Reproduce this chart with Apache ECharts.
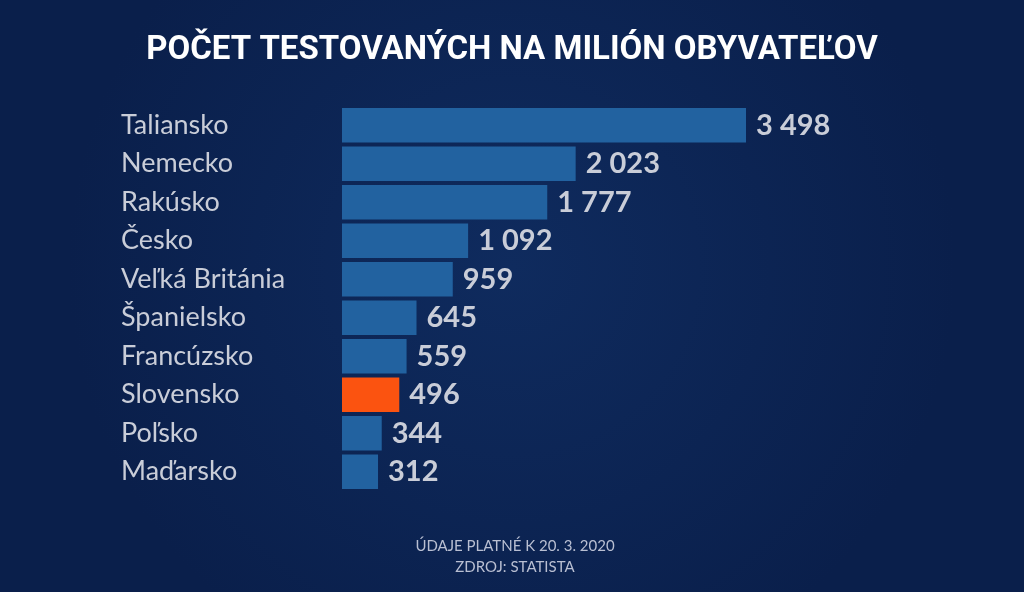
<!DOCTYPE html>
<html>
<head>
<meta charset="utf-8">
<script src="https://cdn.jsdelivr.net/npm/echarts@6/dist/echarts.min.js"></script>
<style>
html,body{margin:0;padding:0;width:1024px;height:592px;overflow:hidden;}
#c{width:1024px;height:592px;}
</style>
</head>
<body>
<div id="c"></div>
<script>
const countries = ['Taliansko','Nemecko','Rakúsko','Česko','Veľká Británia','Španielsko','Francúzsko','Slovensko','Poľsko','Maďarsko'];
const values = [3498, 2023, 1777, 1092, 959, 645, 559, 496, 344, 312];
const highlight = 'Slovensko';
const titleText = 'POČET TESTOVANÝCH NA MILIÓN OBYVATEĽOV';
const footerText = 'ÚDAJE PLATNÉ K 20. 3. 2020\nZDROJ: STATISTA';

const fmt = v => String(v).replace(/\B(?=(\d{3})+(?!\d))/g, ' ');

const chart = echarts.init(document.getElementById('c'));
chart.setOption({
  backgroundColor: {
    type: 'radial', x: 0.5, y: 0.45, r: 0.75,
    colorStops: [{offset: 0, color: '#0f2b5e'}, {offset: 1, color: '#0a1f4b'}]
  },
  title: [{
    text: titleText,
    left: 'center', top: 29,
    textStyle: {color: '#ffffff', fontFamily: 'Roboto', fontWeight: 'bold', fontSize: 33}
  }, {
    text: footerText,
    left: 510, top: 531, textAlign: 'center',
    textStyle: {color: '#b9bfd2', fontFamily: 'Lato', fontWeight: 'normal', fontSize: 15, lineHeight: 21}
  }],
  grid: {left: 342, right: 220, top: 106, bottom: 101, containLabel: false},
  xAxis: {type: 'value', min: 0, max: 4000, show: false},
  yAxis: {
    type: 'category', inverse: true, data: countries,
    axisLine: {show: false}, axisTick: {show: false}, splitLine: {show: false},
    axisLabel: {
      align: 'left', margin: 221, color: '#c9cdd8',
      fontFamily: 'Lato', fontSize: 27
    }
  },
  series: [{
    type: 'bar',
    data: values.map((v, i) => ({
      value: v,
      itemStyle: {color: countries[i] === highlight ? '#fb5310' : '#2262a0'}
    })),
    barCategoryGap: '11%',
    label: {
      show: true, position: 'right', distance: 10,
      color: '#c9cdd8', fontFamily: 'Lato', fontWeight: 'bold', fontSize: 29,
      formatter: p => fmt(p.value)
    },
    animation: false
  }],
  animation: false
});
</script>
</body>
</html>
